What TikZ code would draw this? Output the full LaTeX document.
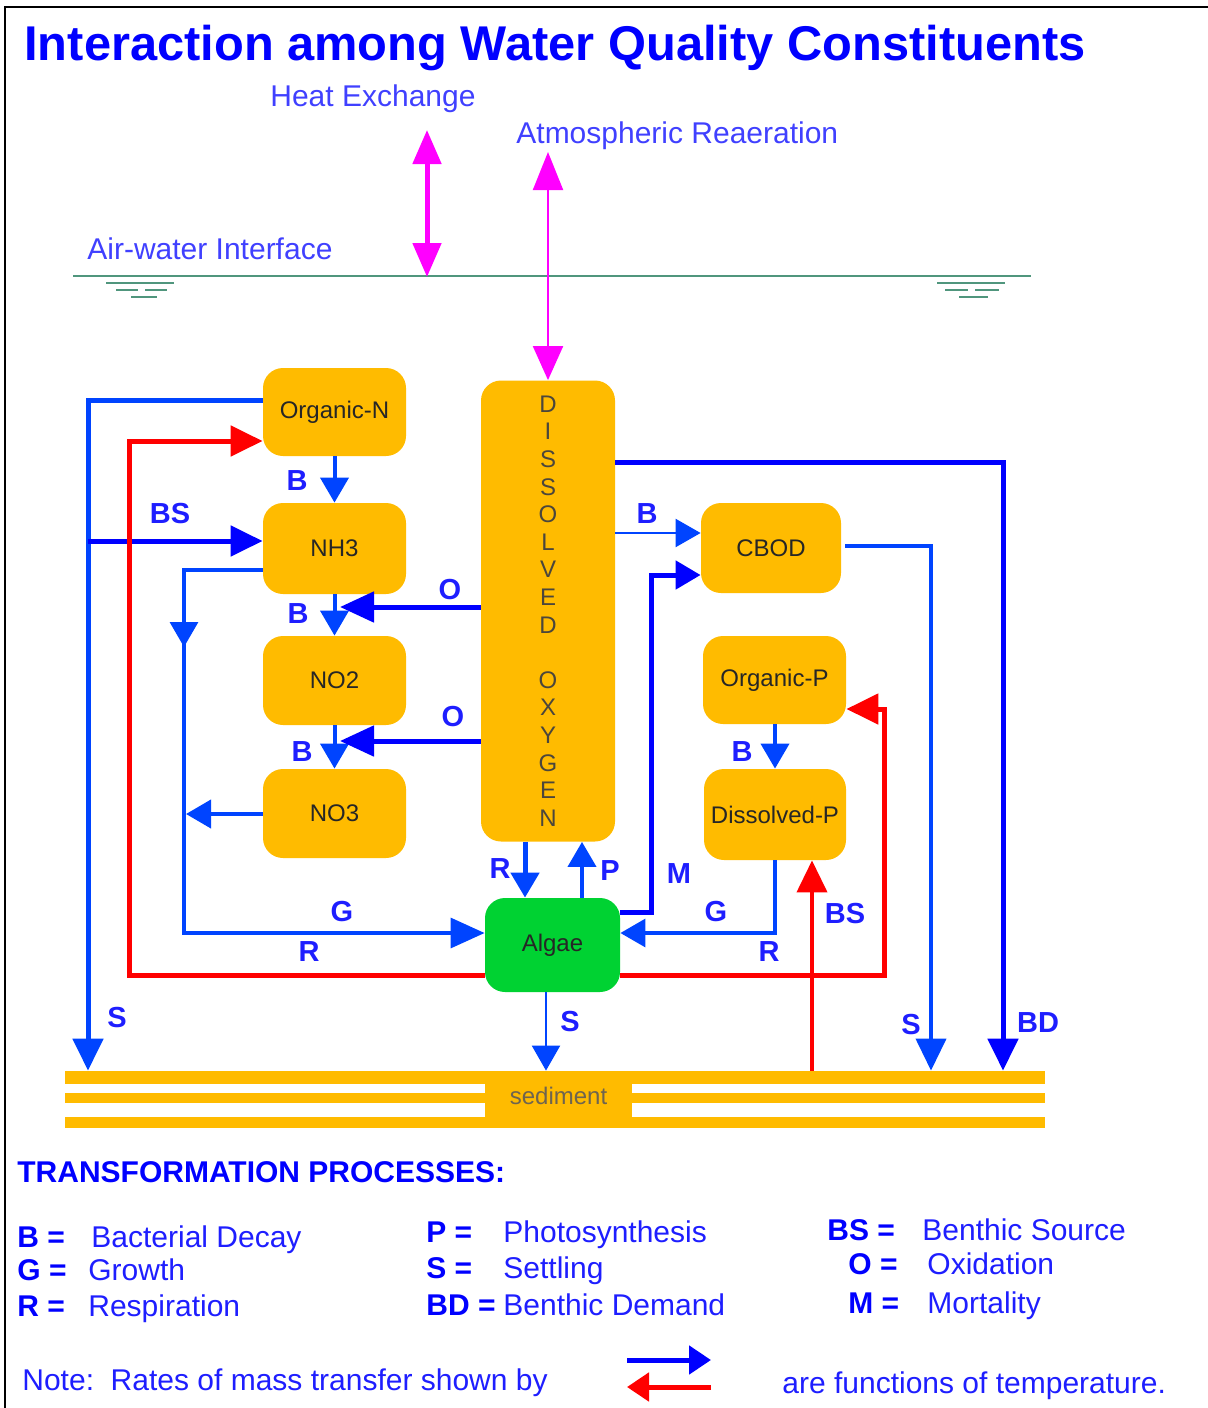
\documentclass[tikz,border=0pt]{standalone}
\usepackage{fontspec}
\setmainfont{Liberation Sans}
\usetikzlibrary{arrows.meta}
\definecolor{orng}{RGB}{255,187,0}
\definecolor{algaeg}{RGB}{0,210,50}
\definecolor{bdeep}{RGB}{0,0,255}
\definecolor{blight}{RGB}{0,68,255}
\definecolor{txtb}{RGB}{30,30,255}
\definecolor{mag}{RGB}{255,0,255}
\definecolor{wline}{RGB}{80,150,125}
\definecolor{dogray}{RGB}{75,70,60}
\definecolor{sedgray}{RGB}{110,100,80}
\begin{document}
\begin{tikzpicture}[x=0.5pt,y=-0.5pt,
  box/.style={fill=orng, rounded corners=10pt, inner sep=0pt, font=\fontsize{12}{14}\selectfont, text=black!85},
  lbl/.style={font=\bfseries\fontsize{14.5}{16}\selectfont, text=txtb, inner sep=0pt},
  leg/.style={font=\fontsize{15}{17}\selectfont, text=txtb, inner sep=0pt, anchor=base west},
  legb/.style={font=\bfseries\fontsize{15}{17}\selectfont, text=bdeep, inner sep=0pt, anchor=base west},
  thk/.style={line width=2.5pt},
  med/.style={line width=2pt},
  mid/.style={line width=1.6pt},
  thn/.style={line width=1.1pt},
  tipA/.style={-{Triangle[length=16pt,width=15pt]}},
  tipB/.style={-{Triangle[length=12.5pt,width=14pt]}},
  tipO/.style={-{Triangle[length=17pt,width=15pt]}}
]
\useasboundingbox (0,0) rectangle (1208,1408);
% frame
\draw[line width=1.4pt] (5,1408) -- (5,7) -- (1208,7);

% title
\node[anchor=base west, inner sep=0pt, font=\bfseries\fontsize{24.4}{28}\selectfont, text=bdeep] (title) at (24,60) {Interaction among Water Quality Constituents};
\node[leg, text=txtb!85] (heat) at (270,106) {Heat Exchange};
\node[leg, text=txtb!85] (atmo) at (516,143) {Atmospheric Reaeration};
\node[leg, text=txtb!85] (airw) at (87,259) {Air-water Interface};

% air-water interface
\draw[wline, line width=1.3pt] (73,276) -- (1031,276);
\begin{scope}[wline, line width=1pt]
\draw (106,283) -- (174,283);
\draw (116,290) -- (138,290) (145,290) -- (167,290);
\draw (131,297) -- (157,297);
\draw (937,283) -- (1005,283);
\draw (945,290) -- (968,290) (975,290) -- (999,290);
\draw (959,297) -- (988,297);
\end{scope}

% boxes
\node[box, minimum width=71.5pt, minimum height=44pt] (orgN) at (334.5,412) {Organic-N};
\node[box, minimum width=71.5pt, minimum height=45.5pt] (nh3) at (334.5,548.5) {NH3};
\node[box, minimum width=71.5pt, minimum height=44.5pt] (no2) at (334.5,680.5) {NO2};
\node[box, minimum width=71.5pt, minimum height=44.5pt] (no3) at (334.5,813.5) {NO3};
\node[box, minimum width=67pt, minimum height=230.5pt, align=center, text=dogray, font=\fontsize{12}{13.8}\selectfont] (do) at (548,611)
  {D\\I\\S\\S\\O\\L\\V\\E\\D\\\mbox{}\\O\\X\\Y\\G\\E\\N};
\node[box, minimum width=70pt, minimum height=45pt] (cbod) at (771,548) {CBOD};
\node[box, minimum width=71.5pt, minimum height=44pt] (orgP) at (774.5,680) {Organic-P};
\node[box, minimum width=71pt, minimum height=45.5pt] (disP) at (775,814.5) {Dissolved-P};
\node[box, fill=algaeg, minimum width=67.5pt, minimum height=47pt] (algae) at (552.5,945) {Algae};

% sediment
\node[fill=orng, inner sep=0pt, minimum width=490pt, minimum height=6.5pt] (sedtop) at (555,1077.5) {};
\fill[orng] (65,1093) rectangle (1045,1103);
\fill[orng] (65,1117) rectangle (1045,1128);
\fill[orng] (485,1071) rectangle (632,1128);
\node[inner sep=0pt, text=sedgray, font=\fontsize{12}{14}\selectfont] (sed) at (558.5,1096) {sediment};

% magenta arrows
\draw[mag, line width=2.5pt, {Triangle[length=17pt,width=14pt]}-{Triangle[length=17pt,width=14pt]}] (427,130) -- (427,277);
\draw[mag, line width=1pt, {Triangle[length=19pt,width=15pt]}-{Triangle[length=17pt,width=15pt]}] (548,152) -- (548,0 |- do.north);

% left side
\draw[blight, thk, tipA] (orgN.west |- 0,400) -- (88,400) -- (88,0 |- sedtop.north);
\draw[bdeep, thk, tipA] (88,541) -- (nh3.west |- 0,541);
\draw[red, thk, tipA] (algae.west |- 0,975) -- (129,975) -- (129,441) -- (orgN.west |- 0,441);
\draw[blight, med, tipB] (334.5,0 |- orgN.south) -- (334.5,0 |- nh3.north);
\draw[blight, med, tipB] (334.5,0 |- nh3.south) -- (334.5,0 |- no2.north);
\draw[blight, med, tipB] (334.5,0 |- no2.south) -- (334.5,0 |- no3.north);
\draw[blight, mid, tipO] (nh3.west |- 0,570) -- (184,570) -- (184,933) -- (algae.west |- 0,933);
\draw[blight, mid, tipB] (184,600) -- (184,647);
\draw[blight, med, tipB] (no3.west |- 0,814) -- (186,814);
\draw[bdeep, thk, tipO] (do.west |- 0,607) -- (340,607);
\draw[bdeep, thk, tipO] (do.west |- 0,741) -- (340,741);

% centre
\draw[blight, thk, tipB] (525,0 |- do.south) -- (525,0 |- algae.north);
\draw[blight, med, tipB] (582,0 |- algae.north) -- (582,0 |- do.south);
\draw[blight, thn, tipB] (546,0 |- algae.south) -- (546,0 |- sedtop.north);

% right side
\draw[bdeep, thk, tipB] (algae.east |- 0,912) -- (651,912) -- (651,575) -- (cbod.west |- 0,575);
\draw[blight, thn, tipB] (do.east |- 0,533) -- (cbod.west |- 0,533);
\draw[bdeep, thk, tipA] (do.east |- 0,462) -- (1003,462) -- (1003,0 |- sedtop.north);
\draw[blight, med, tipA] (845,546) -- (931,546) -- (931,0 |- sedtop.north);
\draw[blight, med, tipB] (775,0 |- orgP.south) -- (775,0 |- disP.north);
\draw[blight, mid, tipB] (775,0 |- disP.south) -- (775,933) -- (algae.east |- 0,933);
\draw[red, med, tipA] (812,0 |- sedtop.north) -- (812,0 |- disP.south);
\draw[red, thk, tipA] (algae.east |- 0,975) -- (884,975) -- (884,709) -- (orgP.east |- 0,709);

% connector labels
\node[lbl] (lS1) at (117,1018) {S};
\node[lbl] (lBS1) at (170,514) {BS};
\node[lbl] (lR1) at (309,952) {R};
\node[lbl] (lB1) at (297,481) {B};
\node[lbl] (lB2) at (298,614) {B};
\node[lbl] (lO1) at (450,590) {O};
\node[lbl] (lB3) at (302,752) {B};
\node[lbl] (lO2) at (453,717) {O};
\node[lbl] (lG1) at (342,912) {G};
\node[lbl] (lR2) at (500,869) {R};
\node[lbl] (lP) at (610,871) {P};
\node[lbl] (lM) at (679,874) {M};
\node[lbl] (lB4) at (647,514) {B};
\node[lbl] (lG2) at (716,912) {G};
\node[lbl] (lR3) at (769,952) {R};
\node[lbl] (lBS2) at (845,914) {BS};
\node[lbl] (lS2) at (570,1022) {S};
\node[lbl] (lS3) at (911,1025) {S};
\node[lbl] (lBD) at (1038,1023) {BD};
\node[lbl] (lB5) at (742,752) {B};

% legend
\node[legb] (tp) at (17,1182) {TRANSFORMATION PROCESSES:};
\node[legb] (k1) at (17,1247) {B =};
\node[leg] (v1) at (91,1247) {Bacterial Decay};
\node[legb] (k2) at (17,1280) {G =};
\node[leg] (v2) at (88,1280) {Growth};
\node[legb] (k3) at (17,1316) {R =};
\node[leg] (v3) at (88,1316) {Respiration};
\node[legb] (k4) at (426,1242) {P =};
\node[leg] (v4) at (503,1242) {Photosynthesis};
\node[legb] (k5) at (426,1278) {S =};
\node[leg] (v5) at (503,1278) {Settling};
\node[legb] (k6) at (426,1315) {BD =};
\node[leg] (v6) at (503,1315) {Benthic Demand};
\node[legb] (k7) at (827,1240) {BS =};
\node[leg] (v7) at (922,1240) {Benthic Source};
\node[legb] (k8) at (848,1274) {O =};
\node[leg] (v8) at (927,1274) {Oxidation};
\node[legb] (k9) at (848,1313) {M =};
\node[leg] (v9) at (927,1313) {Mortality};
\node[leg] (note) at (22,1390) {Note:\ \ Rates of mass transfer shown by};
\node[leg] (note2) at (782,1393) {are functions of temperature.};
\coordinate (ba1) at (627,1360);
\coordinate (ba2) at (711,1360);
\coordinate (ra1) at (711,1387);
\coordinate (ra2) at (627,1387);
\draw[bdeep, line width=2.5pt, -{Triangle[length=11pt,width=14pt]}] (ba1) -- (ba2);
\draw[red, line width=2.5pt, -{Triangle[length=11pt,width=14pt]}] (ra1) -- (ra2);
\end{tikzpicture}
\end{document}
